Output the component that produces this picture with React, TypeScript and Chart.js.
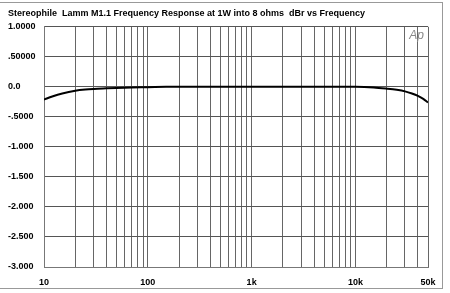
import React, { useEffect, useRef } from "react";
import { Chart, registerables } from "chart.js";

Chart.register(...registerables);

const freqs = [10, 12, 15, 20, 25, 30, 40, 50, 70, 100, 150, 200, 300, 500, 1000, 2000, 5000, 10000, 15000, 20000, 25000, 30000, 35000, 40000, 45000, 50000];
const levels = [-0.21, -0.16, -0.11, -0.065, -0.045, -0.035, -0.025, -0.018, -0.01, -0.005, 0.002, 0.003, 0.0, 0.0, 0.0, 0.0, 0.0, 0.0, -0.01, -0.03, -0.05, -0.075, -0.11, -0.15, -0.2, -0.26];
const xGridValues = [10, 20, 30, 40, 50, 60, 70, 80, 90, 100, 200, 300, 400, 500, 600, 700, 800, 900, 1000, 2000, 3000, 4000, 5000, 6000, 7000, 8000, 9000, 10000, 20000, 30000, 40000, 50000];
const xLabels: Record<number, string> = { 10: "10", 100: "100", 1000: "1k", 10000: "10k", 50000: "50k" };
const yLabels: Record<string, string> = {
  "1": "1.0000", "0.5": ".50000", "0": "0.0", "-0.5": "-.5000", "-1": "-1.000",
  "-1.5": "-1.500", "-2": "-2.000", "-2.5": "-2.500", "-3": "-3.000",
};
const titleText = "Stereophile  Lamm M1.1 Frequency Response at 1W into 8 ohms  dBr vs Frequency";

const FONT = "'Liberation Sans', Arial, sans-serif";

const apLogo = {
  id: "apLogo",
  afterDraw(chart: any) {
    const { ctx, chartArea } = chart;
    ctx.save();
    ctx.font = `italic 12px ${FONT}`;
    ctx.fillStyle = "#888";
    ctx.textAlign = "right";
    ctx.textBaseline = "middle";
    ctx.fillText("Ap", chartArea.right - 4, chartArea.top + 9);
    ctx.restore();
  },
};

export default function App() {
  const ref = useRef<HTMLCanvasElement>(null);
  useEffect(() => {
    const chart = new Chart(ref.current!, {
      type: "line",
      data: {
        datasets: [
          {
            data: freqs.map((f, i) => ({ x: f, y: levels[i] })),
            borderColor: "#000",
            borderWidth: 2,
            pointRadius: 0,
            cubicInterpolationMode: "monotone",
          },
        ],
      },
      options: {
        animation: false,
        responsive: false,
        layout: { padding: { left: 8, right: 22, top: 0, bottom: 4 } },
        plugins: {
          legend: { display: false },
          tooltip: { enabled: false },
          title: {
            display: true,
            text: titleText,
            align: "start",
            color: "#000",
            font: { family: FONT, size: 9, weight: "bold" },
            padding: { top: 8, bottom: 8 },
          },
        },
        scales: {
          x: {
            type: "logarithmic",
            min: 10,
            max: 50000,
            afterBuildTicks: (scale: any) => {
              scale.ticks = xGridValues.map((v) => ({ value: v }));
            },
            afterFit: (scale: any) => {
              scale.height = 22;
            },
            ticks: {
              autoSkip: false,
              maxRotation: 0,
              padding: 10,
              color: "#000",
              font: { family: FONT, size: 9, weight: "bold" },
              callback: (v: any) => xLabels[Number(v)] ?? "",
            },
            grid: { color: "#666", drawTicks: false, lineWidth: 1 },
            border: { color: "#777" },
          },
          y: {
            min: -3,
            max: 1,
            afterBuildTicks: (scale: any) => {
              const t = [];
              for (let v = -3; v <= 1.0001; v += 0.5) t.push({ value: Math.round(v * 10) / 10 });
              scale.ticks = t;
            },
            afterFit: (scale: any) => {
              scale.width = 36;
            },
            ticks: {
              crossAlign: "far",
              color: "#000",
              font: { family: FONT, size: 9, weight: "bold" },
              callback: (v: any) => yLabels[String(Math.round(Number(v) * 10) / 10)] ?? "",
            },
            grid: { color: "#555", drawTicks: false, lineWidth: 1 },
            border: { color: "#777" },
          },
        },
      },
      plugins: [apLogo],
    } as any);
    return () => chart.destroy();
  }, []);
  return (
    <div style={{ position: "fixed", left: 0, top: 0, width: 450, height: 293, background: "#fff" }}>
      <canvas ref={ref} width={450} height={293} style={{ display: "block" }} />
      <div
        style={{
          position: "absolute",
          left: 0,
          top: 2,
          width: 443,
          height: 287,
          border: "1px solid #999",
          borderLeft: "none",
          boxSizing: "border-box",
          pointerEvents: "none",
        }}
      />
    </div>
  );
}
